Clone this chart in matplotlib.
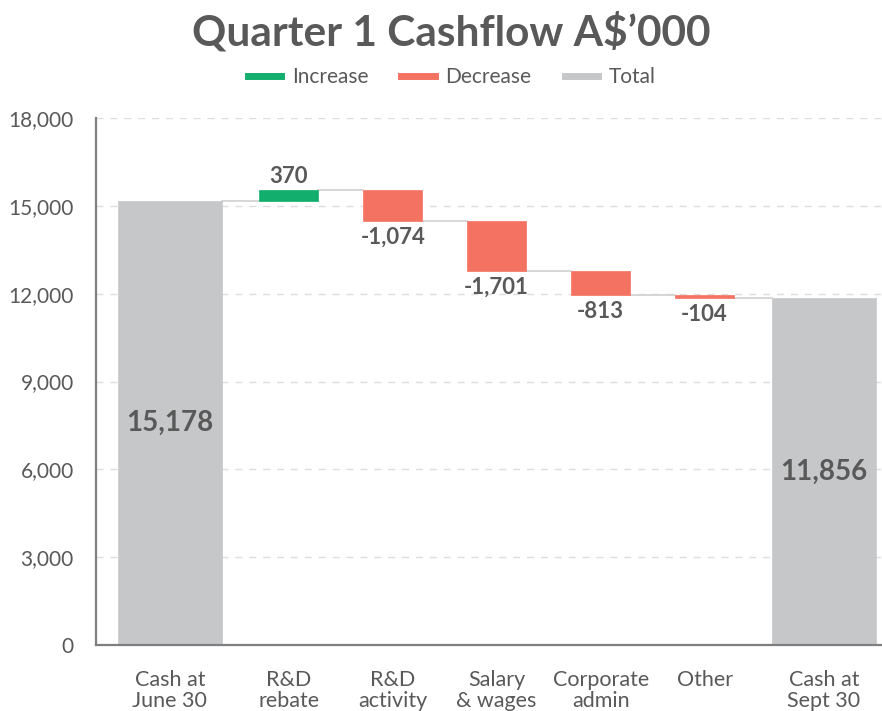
import numpy as np
from matplotlib import pyplot as plt
from matplotlib.lines import Line2D

categories = ["Cash at\nJune 30", "R&D\nrebate", "R&D\nactivity", "Salary\n& wages",
              "Corporate\nadmin", "Other", "Cash at\nSept 30"]
changes = [15178, 370, -1074, -1701, -813, -104, 11856]
kinds = ["total", "inc", "dec", "dec", "dec", "dec", "total"]

colors = {"inc": "#12AE6E", "dec": "#F47261", "total": "#C6C7C9"}
text_col = "#595959"

plt.rcParams['font.family'] = ['Lato', 'DejaVu Sans']

# category centres (total columns are wider, so a bit more gap around them)
xpos = [0.0, 1.144, 2.144, 3.144, 4.144, 5.144, 6.29]

fig = plt.figure(figsize=(8.82, 7.11), dpi=100)
ax = fig.add_axes([0.1088, 0.0928, 0.8912, 0.7412])

level = 0
tops = []
for i, (c, k) in enumerate(zip(changes, kinds)):
    if k == "total":
        bottom, h = 0, c
        level = c
        w = 1.0
    else:
        bottom = level if c > 0 else level + c
        h = abs(c)
        level = level + c
        w = 0.57
    ax.bar(xpos[i], h, bottom=bottom, width=w, color=colors[k], zorder=3,
           edgecolor=colors[k], linewidth=0.5)
    tops.append(level)
    if k == "total":
        ax.text(xpos[i], c / 2, f"{c:,}", ha='center', va='center', fontsize=20,
                fontweight='bold', color=text_col, zorder=4)
    elif c > 0:
        ax.text(xpos[i], level + 110, f"{c:,}", ha='center', va='bottom', fontsize=16,
                fontweight='bold', color=text_col, zorder=4)
    else:
        ax.text(xpos[i], level - 200, f"{c:,}", ha='center', va='top', fontsize=16,
                fontweight='bold', color=text_col, zorder=4)

# connector lines
widths = [1.0 if k == "total" else 0.57 for k in kinds]
for i in range(len(changes) - 1):
    ax.plot([xpos[i] + widths[i] / 2, xpos[i + 1] - widths[i + 1] / 2], [tops[i], tops[i]],
            color="#D0D0D0", linewidth=1.2, zorder=2)

ax.set_xlim(-0.71, 6.85)
ax.set_ylim(0, 18000)
ax.set_yticks(np.arange(0, 18001, 3000))
ax.set_yticklabels([f"{v:,}" for v in range(0, 18001, 3000)])
ax.set_xticks(xpos)
ax.set_xticklabels(categories, linespacing=1.05)
ax.tick_params(axis='y', length=0, labelsize=15, labelcolor=text_col, pad=16)
ax.tick_params(axis='x', length=0, labelsize=15.5, labelcolor=text_col, pad=18)
ax.grid(axis='y', color="#DDDDDD", linestyle=(0, (5, 5)), linewidth=1, zorder=0)
for s in ['top', 'right']:
    ax.spines[s].set_visible(False)
for s in ['left', 'bottom']:
    ax.spines[s].set_color("#7F7F7F")
    ax.spines[s].set_linewidth(1.6)
    ax.spines[s].set_zorder(5)

fig.text(0.512, 0.955, "Quarter 1 Cashflow A$\u2019000", ha='center', va='center',
         fontsize=30.5, fontweight='bold', color=text_col)

handles = [Line2D([], [], color=colors["inc"], linewidth=5),
           Line2D([], [], color=colors["dec"], linewidth=5),
           Line2D([], [], color=colors["total"], linewidth=5)]
fig.legend(handles, ["Increase", "Decrease", "Total"], loc='center', bbox_to_anchor=(0.512, 0.891),
           ncol=3, frameon=False, fontsize=15, handlelength=1.6, handletextpad=0.5,
           columnspacing=1.6, labelcolor=text_col)

fig.savefig("out.png", dpi=100)
